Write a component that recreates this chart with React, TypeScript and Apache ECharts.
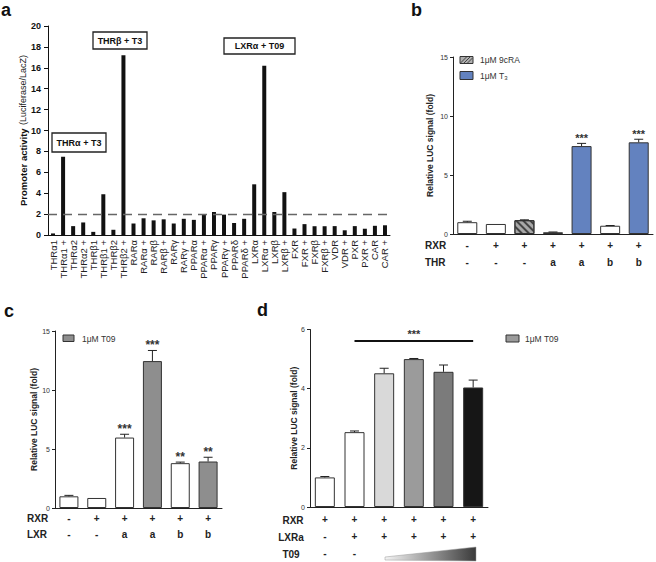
import React, { useEffect, useRef } from "react";
import * as echarts from "echarts";

const FONT = "'Liberation Sans', Arial, sans-serif";

// Panel a
const aCats = ["THRα1","THRα1 +","THRα2","THRα2 +","THRβ1","THRβ1 +","THRβ2","THRβ2 +","RARα","RARα +","RARβ","RARβ +","RARγ","RARγ +","PPARα","PPARα +","PPARγ","PPARγ +","PPARδ","PPARδ +","LXRα","LXRα +","LXRβ","LXRβ +","FXR","FXR +","FXRβ","FXRβ +","VDR","VDR +","PXR","PXR +","CAR","CAR +"];
const aVals = [0.15,7.5,0.85,1.2,0.3,3.9,0.5,17.2,1.1,1.6,1.4,1.5,1.1,1.55,1.45,2.0,2.2,1.95,1.15,1.55,4.85,16.2,2.2,4.1,0.62,1.04,0.84,0.84,0.85,0.45,0.85,0.6,0.88,0.93];
const aThreshold = 2;
const aTicks = { min: 0, max: 20, interval: 2 };

// Panel b
const bRxr = ["-","+","+","+","+","+","+"];
const bThr = ["-","-","-","a","a","b","b"];
const bVals = [1.0,0.85,1.17,0.15,7.45,0.7,7.77];
const bErr = [1.08,0.85,1.2,0.17,7.68,0.72,8.03];
const bStars = ["","","","","***","","***"];
const bColors = ["#ffffff","#ffffff","#a8a8a8","#ffffff","#6382bf","#ffffff","#6382bf"];
const bHatched = [false,false,true,false,false,false,false];

// Panel c
const cRxr = ["-","+","+","+","+","+"];
const cLxr = ["-","-","a","a","b","b"];
const cVals = [0.99,0.85,5.97,12.45,3.8,3.94];
const cErr = [1.07,0.85,6.25,13.35,3.89,4.3];
const cStars = ["","","***","***","**","**"];
const cColors = ["#ffffff","#ffffff","#ffffff","#8e8e8e","#ffffff","#8e8e8e"];

// Panel d
const dRxr = ["+","+","+","+","+","+"];
const dLxra = ["-","+","+","+","+","+"];
const dT09 = ["-","-"," "," "," "," "];
const dVals = [1.0,2.53,4.52,5.0,4.57,4.04];
const dErr = [1.03,2.57,4.69,5.02,4.8,4.29];
const dColors = ["#ffffff","#ffffff","#d9d9d9","#9b9b9b","#7b7b7b","#161616"];
const dSigLevel = 5.62;

function errSeries(idx: number, vals: number[], errs: number[], stars: string[], starSize: number) {
  return {
    type: "custom",
    xAxisIndex: idx,
    yAxisIndex: idx,
    z: 5,
    data: vals.map((v, i) => [i, v, errs[i]]),
    renderItem: (params: any, api: any) => {
      const i = api.value(0);
      const v = api.value(1);
      const e = api.value(2);
      const p0 = api.coord([i, v]);
      const p1 = api.coord([i, e]);
      const children: any[] = [];
      if (e > v) {
        children.push({ type: "line", shape: { x1: p0[0], y1: p0[1], x2: p1[0], y2: p1[1] }, style: { stroke: "#222", lineWidth: 1 } });
        children.push({ type: "line", shape: { x1: p1[0] - 4.5, y1: p1[1], x2: p1[0] + 4.5, y2: p1[1] }, style: { stroke: "#222", lineWidth: 1 } });
      }
      const s = stars[params.dataIndex];
      if (s) {
        children.push({ type: "text", style: { text: s, x: p1[0], y: p1[1] - 5, align: "center", verticalAlign: "middle", fontSize: starSize, fontWeight: "bold", fill: "#333", fontFamily: FONT } });
      }
      return { type: "group", children };
    },
  };
}

function smallYAxis(idx: number, max: number, interval: number, nameGap: number) {
  return {
    gridIndex: idx,
    type: "value",
    min: 0,
    max,
    interval,
    axisLine: { show: true, lineStyle: { color: "#222", width: 1 } },
    axisTick: { show: true, length: 3, lineStyle: { color: "#222" } },
    axisLabel: { fontSize: 7, color: "#333", margin: 5, fontFamily: FONT },
    splitLine: { show: false },
    name: "Relative LUC signal (fold)",
    nameLocation: "middle",
    nameRotate: 90,
    nameGap,
    nameMoveOverlap: false,
    nameTextStyle: { fontSize: 8.5, fontWeight: "bold", color: "#222", fontFamily: FONT },
  };
}

function rowAxis(idx: number, rows: string[][], lineHeight: number, margin: number) {
  return {
    gridIndex: idx,
    type: "category",
    data: rows[0].map((_, i) => rows.map((r) => r[i]).join("\n")),
    axisLine: { show: true, lineStyle: { color: "#222", width: 1 } },
    axisTick: { show: false },
    axisLabel: { fontSize: 10, fontWeight: "bold", color: "#222", lineHeight, margin, fontFamily: FONT, interval: 0 },
  };
}

export default function App() {
  const ref = useRef<HTMLDivElement>(null);
  useEffect(() => {
    if (!ref.current) return;
    const chart = echarts.init(ref.current, null, { renderer: "svg" });
    const hatch = { symbol: "rect", symbolSize: 1, dashArrayX: [[1, 0]], dashArrayY: [2, 3], rotation: Math.PI / 4, color: "#444" };

    const option: any = {
      animation: false,
      backgroundColor: "#ffffff",
      textStyle: { fontFamily: FONT },
      grid: [
        { left: 48, top: 26, width: 342, height: 209 },
        { left: 453, top: 57, width: 200, height: 177 },
        { left: 55, top: 331, width: 167, height: 177 },
        { left: 310, top: 329.5, width: 178, height: 178 },
      ],
      xAxis: [
        {
          gridIndex: 0,
          type: "category",
          data: aCats,
          axisLine: { show: true, lineStyle: { color: "#111", width: 1 } },
          axisTick: { show: false },
          axisLabel: { rotate: 90, fontSize: 9.5, color: "#222", margin: 5, interval: 0, fontFamily: FONT },
        },
        rowAxis(1, [bRxr, bThr], 17, 3),
        rowAxis(2, [cRxr, cLxr], 16, 2),
        rowAxis(3, [dRxr, dLxra, dT09], 17, 4),
      ],
      yAxis: [
        {
          gridIndex: 0,
          type: "value",
          min: aTicks.min,
          max: aTicks.max,
          interval: aTicks.interval,
          axisLine: { show: true, lineStyle: { color: "#111", width: 1 } },
          axisTick: { show: true, length: 4, lineStyle: { color: "#111" } },
          axisLabel: { fontSize: 9, fontWeight: "bold", color: "#111", margin: 7, fontFamily: FONT },
          splitLine: { show: false },
          name: "{b|Promoter activity} {n|(Luciferase/LacZ)}",
          nameLocation: "middle",
          nameRotate: 90,
          nameGap: 19,
          nameMoveOverlap: false,
          nameTextStyle: {
            rich: {
              b: { fontSize: 9.5, fontWeight: "bold", color: "#111", fontFamily: FONT },
              n: { fontSize: 9, color: "#222", fontFamily: FONT },
            },
          },
        },
        smallYAxis(1, 15, 5, 19),
        smallYAxis(2, 15, 5, 17),
        smallYAxis(3, 6, 2, 12),
      ],
      series: [
        {
          type: "bar",
          xAxisIndex: 0,
          yAxisIndex: 0,
          data: aVals,
          barWidth: 4,
          itemStyle: { color: "#111" },
          markLine: {
            silent: true,
            symbol: "none",
            label: { show: false },
            lineStyle: { color: "#666", type: [9, 6], width: 1.3 },
            data: [{ yAxis: aThreshold }],
          },
        },
        {
          type: "bar",
          xAxisIndex: 1,
          yAxisIndex: 1,
          barWidth: 20,
          data: bVals.map((v, i) => ({
            value: v,
            itemStyle: { color: bColors[i], borderColor: "#333", borderWidth: 1, decal: bHatched[i] ? hatch : undefined },
          })),
        },
        errSeries(1, bVals, bErr, bStars, 11),
        {
          type: "bar",
          xAxisIndex: 2,
          yAxisIndex: 2,
          barWidth: 19,
          data: cVals.map((v, i) => ({ value: v, itemStyle: { color: cColors[i], borderColor: "#333", borderWidth: 1 } })),
        },
        errSeries(2, cVals, cErr, cStars, 12),
        {
          type: "bar",
          xAxisIndex: 3,
          yAxisIndex: 3,
          barWidth: 20,
          data: dVals.map((v, i) => ({ value: v, itemStyle: { color: dColors[i], borderColor: "#333", borderWidth: 1 } })),
          markLine: {
            silent: true,
            symbol: "none",
            lineStyle: { color: "#111", type: "solid", width: 2 },
            label: { show: true, position: "middle", formatter: "***", fontSize: 11, fontWeight: "bold", color: "#333", distance: 1 },
            data: [[{ coord: [1, dSigLevel] }, { coord: [5, dSigLevel] }]],
          },
        },
        errSeries(3, dVals, dErr, ["", "", "", "", "", ""], 11),
      ],
      graphic: [
        // panel letters
        { type: "text", left: 1, top: 1, style: { text: "a", fontSize: 18, fontWeight: "bold", fill: "#111", fontFamily: FONT } },
        { type: "text", left: 411, top: 1, style: { text: "b", fontSize: 18, fontWeight: "bold", fill: "#111", fontFamily: FONT } },
        { type: "text", left: 4, top: 302, style: { text: "c", fontSize: 18, fontWeight: "bold", fill: "#111", fontFamily: FONT } },
        { type: "text", left: 257, top: 301, style: { text: "d", fontSize: 18, fontWeight: "bold", fill: "#111", fontFamily: FONT } },
        // panel a annotation boxes
        { type: "rect", shape: { x: 52, y: 133, width: 54, height: 19 }, style: { fill: "#fff", stroke: "#222", lineWidth: 1.3 }, z: 10 },
        { type: "text", x: 79, y: 142.5, style: { text: "THRα + T3", align: "center", verticalAlign: "middle", fontSize: 9, fontWeight: "bold", fill: "#111", fontFamily: FONT }, z: 11 },
        { type: "rect", shape: { x: 93, y: 32, width: 54, height: 17 }, style: { fill: "#fff", stroke: "#222", lineWidth: 1.3 }, z: 10 },
        { type: "text", x: 120, y: 40.5, style: { text: "THRβ + T3", align: "center", verticalAlign: "middle", fontSize: 9, fontWeight: "bold", fill: "#111", fontFamily: FONT }, z: 11 },
        { type: "rect", shape: { x: 224, y: 38, width: 71, height: 16 }, style: { fill: "#fff", stroke: "#222", lineWidth: 1.3 }, z: 10 },
        { type: "text", x: 259.5, y: 46, style: { text: "LXRα + T09", align: "center", verticalAlign: "middle", fontSize: 9, fontWeight: "bold", fill: "#111", fontFamily: FONT }, z: 11 },
        // panel b legend
        { type: "rect", shape: { x: 460, y: 56.5, width: 13, height: 7 }, style: { fill: "#b0b0b0", stroke: "#333", lineWidth: 1 } },
        { type: "line", shape: { x1: 460.5, y1: 63, x2: 466.5, y2: 57 }, style: { stroke: "#444", lineWidth: 1 } },
        { type: "line", shape: { x1: 464, y1: 63, x2: 470, y2: 57 }, style: { stroke: "#444", lineWidth: 1 } },
        { type: "line", shape: { x1: 467.5, y1: 63, x2: 472.5, y2: 58 }, style: { stroke: "#444", lineWidth: 1 } },
        { type: "text", x: 480, y: 60, style: { text: "1μM 9cRA", verticalAlign: "middle", fontSize: 8.5, fill: "#333", fontFamily: FONT } },
        { type: "rect", shape: { x: 460, y: 71.5, width: 13, height: 8 }, style: { fill: "#6382bf", stroke: "#333", lineWidth: 1 } },
        { type: "text", x: 480, y: 75.5, style: { text: "{a|1μM T}{s|3}", verticalAlign: "middle", rich: { a: { fontSize: 8.5, fill: "#333", fontFamily: FONT }, s: { fontSize: 6, fill: "#333", padding: [5, 0, 0, 0], fontFamily: FONT } } } },
        // panel b row labels
        { type: "text", x: 425, y: 245.5, style: { text: "RXR", verticalAlign: "middle", fontSize: 10, fontWeight: "bold", fill: "#222", fontFamily: FONT } },
        { type: "text", x: 425, y: 262.5, style: { text: "THR", verticalAlign: "middle", fontSize: 10, fontWeight: "bold", fill: "#222", fontFamily: FONT } },
        // panel c legend and rows
        { type: "rect", shape: { x: 63, y: 335, width: 11, height: 6.5 }, style: { fill: "#8e8e8e", stroke: "#333", lineWidth: 1 } },
        { type: "text", x: 82, y: 338.5, style: { text: "1μM T09", verticalAlign: "middle", fontSize: 8.5, fill: "#333", fontFamily: FONT } },
        { type: "text", x: 27, y: 518, style: { text: "RXR", verticalAlign: "middle", fontSize: 10, fontWeight: "bold", fill: "#222", fontFamily: FONT } },
        { type: "text", x: 27, y: 534, style: { text: "LXR", verticalAlign: "middle", fontSize: 10, fontWeight: "bold", fill: "#222", fontFamily: FONT } },
        // panel d legend and rows
        { type: "rect", shape: { x: 506, y: 335, width: 13, height: 7 }, style: { fill: "#9b9b9b", stroke: "#333", lineWidth: 1 } },
        { type: "text", x: 525, y: 338.5, style: { text: "1μM T09", verticalAlign: "middle", fontSize: 8.5, fill: "#333", fontFamily: FONT } },
        { type: "text", x: 293, y: 520, style: { text: "RXR", align: "center", verticalAlign: "middle", fontSize: 10, fontWeight: "bold", fill: "#222", fontFamily: FONT } },
        { type: "text", x: 291, y: 537, style: { text: "LXRa", align: "center", verticalAlign: "middle", fontSize: 10, fontWeight: "bold", fill: "#222", fontFamily: FONT } },
        { type: "text", x: 291, y: 554, style: { text: "T09", align: "center", verticalAlign: "middle", fontSize: 10, fontWeight: "bold", fill: "#222", fontFamily: FONT } },
        {
          type: "polygon",
          shape: { points: [[385, 557], [476, 547], [476, 561], [385, 560]] },
          style: {
            fill: new echarts.graphic.LinearGradient(0, 0, 1, 0, [
              { offset: 0, color: "#f4f4f4" },
              { offset: 1, color: "#3a3a3a" },
            ]),
            stroke: "#999",
            lineWidth: 0.5,
          },
        },
      ],
    };
    chart.setOption(option);
    return () => chart.dispose();
  }, []);
  return <div ref={ref} style={{ position: "fixed", left: 0, top: 0, width: 656, height: 562 }} />;
}
